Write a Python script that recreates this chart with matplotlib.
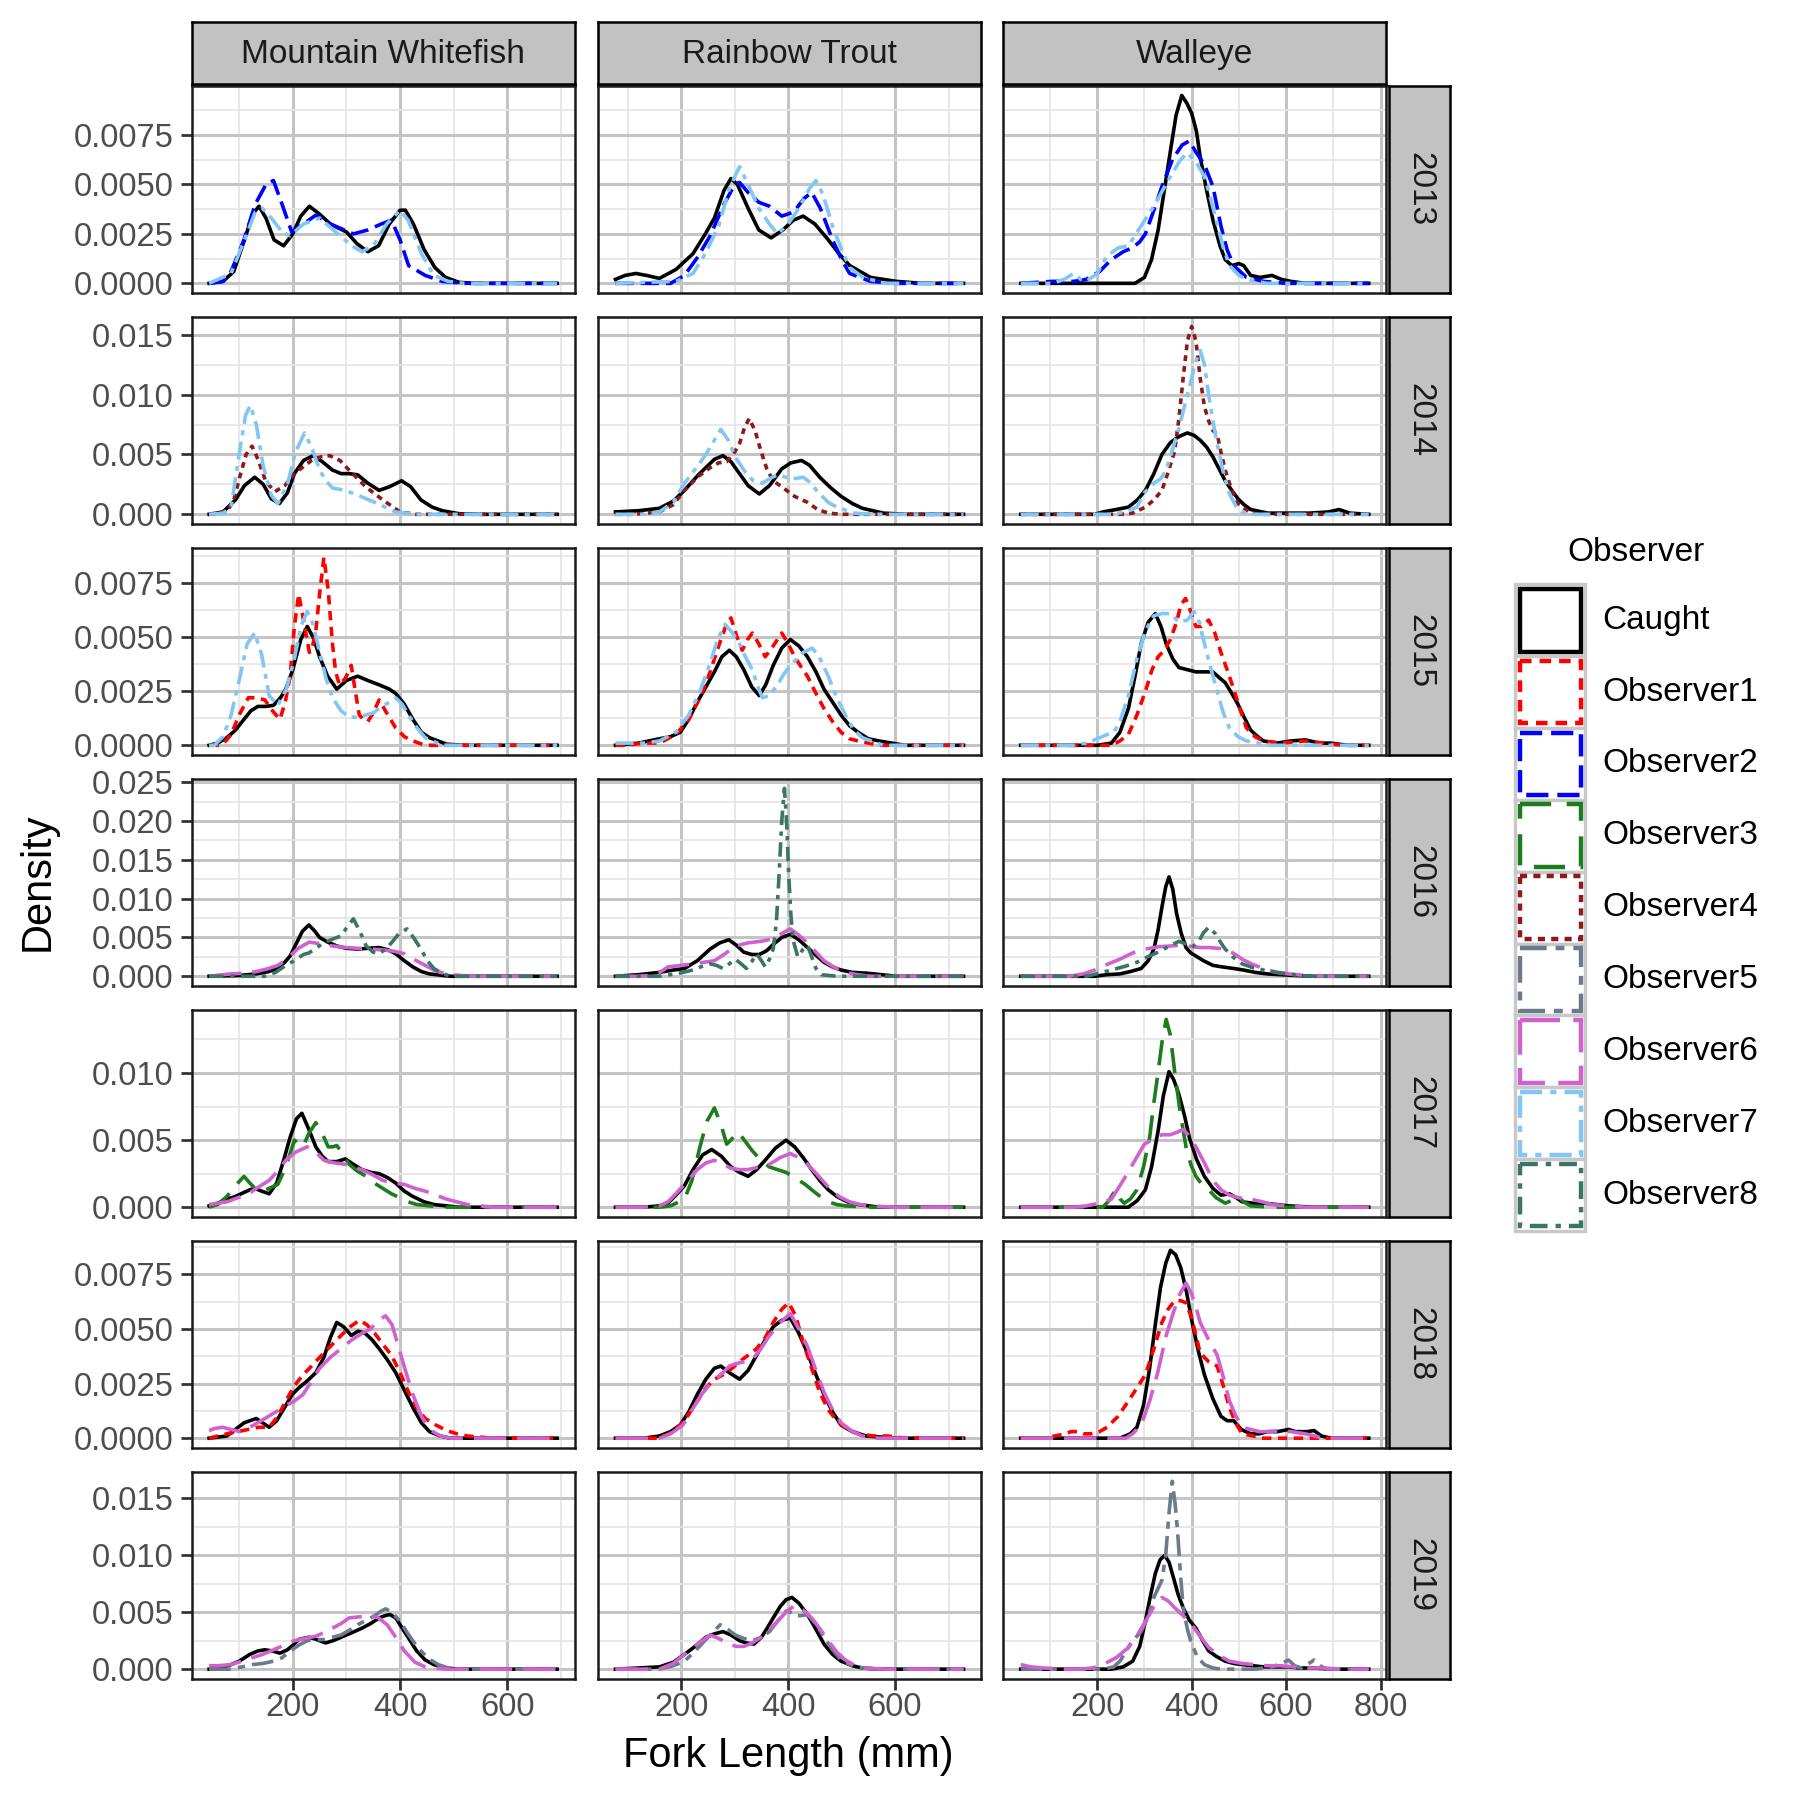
import matplotlib
matplotlib.use("Agg")
import matplotlib.pyplot as plt
from matplotlib.patches import Rectangle
from matplotlib.ticker import MultipleLocator, FuncFormatter

plt.rcParams['font.family'] = ['Liberation Sans', 'DejaVu Sans']

# ----------------------------------------------------------------------
# Data: density curves, (fork length mm, density)
# ----------------------------------------------------------------------
species = ['Mountain Whitefish', 'Rainbow Trout', 'Walleye']
years = ['2013', '2014', '2015', '2016', '2017', '2018', '2019']
observers = ['Caught', 'Observer1', 'Observer2', 'Observer3', 'Observer4',
             'Observer5', 'Observer6', 'Observer7', 'Observer8']

mw_2013 = {
    'Caught': [(44, 0), (70, 0.0001), (90, 0.0006), (110, 0.0022), (125, 0.0035), (137, 0.0039), (150, 0.0033),
               (165, 0.0022), (183, 0.0019), (200, 0.0025), (215, 0.0034), (231, 0.0039), (250, 0.0035),
               (270, 0.0030), (300, 0.0026), (320, 0.0020), (340, 0.0016), (360, 0.0019), (380, 0.0030),
               (400, 0.0037), (410, 0.0037), (425, 0.0030), (445, 0.0017), (465, 0.0008), (485, 0.0003),
               (510, 0.00005), (540, 0), (693, 0)],
    'Observer2': [(44, 0), (70, 0.0001), (85, 0.0006), (109, 0.0022), (130, 0.0040), (150, 0.0050), (164, 0.0052),
                  (180, 0.0040), (198, 0.0026), (220, 0.0030), (243, 0.00345), (270, 0.0030), (313, 0.0025),
                  (340, 0.0027), (365, 0.0030), (384, 0.0032), (400, 0.0022), (416, 0.0009), (447, 0.0004),
                  (479, 0.0001), (520, 0), (693, 0)],
    'Observer7': [(44, 0), (85, 0.0005), (110, 0.0022), (130, 0.0036), (143, 0.0038), (160, 0.0033), (180, 0.0026),
                  (195, 0.0024), (220, 0.0030), (250, 0.0033), (280, 0.0026), (310, 0.0019), (329, 0.0016),
                  (350, 0.0019), (375, 0.0030), (400, 0.0037), (415, 0.0032), (440, 0.0015), (463, 0.0004),
                  (490, 0.0001), (520, 0), (693, 0)],
}
rt_2013 = {
    'Caught': [(77, 0.0002), (95, 0.0004), (115, 0.0005), (135, 0.0004), (159, 0.00025), (190, 0.0007),
               (222, 0.0015), (245, 0.0025), (262, 0.0033), (280, 0.0047), (293, 0.0053), (305, 0.0050),
               (325, 0.0038), (345, 0.0027), (368, 0.0023), (390, 0.0027), (410, 0.0032), (428, 0.0034),
               (450, 0.0030), (475, 0.0022), (495, 0.0015), (515, 0.0009), (554, 0.0003), (602, 0.0001),
               (650, 0), (728, 0)],
    'Observer2': [(77, 0), (180, 0), (206, 0.0004), (230, 0.0013), (254, 0.0024), (280, 0.0040), (300, 0.0050),
                  (309, 0.0051), (325, 0.0046), (345, 0.0041), (365, 0.0039), (388, 0.0034), (410, 0.0036),
                  (430, 0.0043), (444, 0.0046), (460, 0.0038), (483, 0.0022), (500, 0.0012), (515, 0.0005),
                  (554, 0.0001), (600, 0), (728, 0)],
    'Observer7': [(77, 0), (190, 0.0001), (222, 0.0005), (245, 0.0015), (270, 0.0029), (290, 0.0048), (309, 0.0059),
                  (325, 0.0050), (345, 0.0038), (365, 0.0030), (380, 0.0025), (400, 0.0030), (420, 0.0038),
                  (440, 0.0048), (452, 0.0052), (465, 0.0045), (483, 0.0029), (500, 0.0017), (515, 0.0008),
                  (540, 0.0003), (580, 0), (728, 0)],
}
wa_2013 = {
    'Caught': [(38, 0), (280, 0), (300, 0.0003), (315, 0.0012), (329, 0.0027), (342, 0.0047), (355, 0.0067),
               (367, 0.0085), (379, 0.0095), (390, 0.0091), (400, 0.0086), (410, 0.0077), (418, 0.0064),
               (430, 0.0049), (445, 0.0032), (460, 0.0019), (471, 0.0012), (485, 0.0009), (500, 0.0010),
               (510, 0.0009), (525, 0.0004), (545, 0.0003), (570, 0.0004), (590, 0.0002), (610, 0.0001),
               (640, 0), (775, 0)],
    'Observer2': [(38, 0), (105, 0.0001), (150, 0.0001), (177, 0.0002), (205, 0.0006), (230, 0.0012), (255, 0.0016),
                  (275, 0.0018), (290, 0.0021), (302, 0.0025), (320, 0.0037), (337, 0.0049), (360, 0.0063),
                  (380, 0.0070), (395, 0.0072), (410, 0.0066), (427, 0.0060), (445, 0.0049), (462, 0.0029),
                  (475, 0.0017), (489, 0.0009), (516, 0.0003), (552, 0.0001), (600, 0), (775, 0)],
    'Observer7': [(38, 0), (105, 0), (130, 0.0002), (150, 0.0005), (165, 0.0002), (177, 0.0001), (200, 0.0005),
                  (221, 0.0014), (245, 0.0018), (266, 0.0019), (290, 0.0028), (320, 0.0039), (350, 0.0052),
                  (375, 0.0062), (391, 0.0066), (410, 0.0061), (427, 0.0054), (440, 0.0043), (454, 0.0030),
                  (467, 0.0018), (480, 0.0009), (500, 0.0004), (516, 0.0002), (560, 0), (775, 0)],
}

mw_2014 = {
    'Caught': [(44, 0), (70, 0.0002), (93, 0.0012), (110, 0.0024), (129, 0.0031), (145, 0.0025), (160, 0.0013),
               (175, 0.0009), (190, 0.0018), (203, 0.0034), (220, 0.0045), (238, 0.0049), (255, 0.0044),
               (274, 0.0037), (290, 0.0034), (305, 0.0034), (321, 0.0033), (340, 0.0026), (361, 0.0020),
               (380, 0.0023), (403, 0.0028), (420, 0.0023), (439, 0.0012), (460, 0.0006), (479, 0.0003),
               (510, 0.00005), (550, 0), (693, 0)],
    'Observer4': [(44, 0), (65, 0.0001), (77, 0.0002), (90, 0.0012), (101, 0.0031), (113, 0.0050), (124, 0.0057),
                  (135, 0.0046), (150, 0.0027), (167, 0.0019), (185, 0.0024), (203, 0.0034), (235, 0.0045),
                  (252, 0.0048), (269, 0.0049), (288, 0.0045), (305, 0.0037), (336, 0.0023), (368, 0.0012),
                  (400, 0.0002), (430, 0), (693, 0)],
    'Observer7': [(44, 0), (70, 0.0001), (85, 0.0006), (101, 0.0053), (112, 0.0083), (121, 0.0091), (132, 0.0075),
                  (145, 0.0040), (160, 0.0016), (172, 0.0009), (190, 0.0025), (205, 0.0052), (222, 0.0068),
                  (236, 0.0055), (250, 0.0037), (262, 0.0028), (274, 0.0022), (298, 0.0020), (321, 0.0016),
                  (353, 0.0010), (392, 0.0002), (430, 0), (693, 0)],
}
rt_2014 = {
    'Caught': [(77, 0.0002), (120, 0.0003), (159, 0.0005), (185, 0.0011), (206, 0.0020), (230, 0.0032),
               (246, 0.0039), (262, 0.0046), (278, 0.0049), (293, 0.0044), (309, 0.0034), (325, 0.0024),
               (346, 0.0017), (365, 0.0024), (388, 0.0038), (405, 0.0043), (425, 0.0045), (440, 0.0041),
               (459, 0.0031), (480, 0.0022), (499, 0.0015), (520, 0.0009), (539, 0.0005), (578, 0.0001),
               (620, 0), (728, 0)],
    'Observer4': [(77, 0), (111, 0), (135, 0.0001), (159, 0.0002), (185, 0.0008), (206, 0.0020), (230, 0.0031),
                  (254, 0.0039), (270, 0.0043), (285, 0.0044), (300, 0.0052), (309, 0.0059), (318, 0.0072),
                  (327, 0.0080), (338, 0.0070), (349, 0.0053), (360, 0.0038), (372, 0.0028), (388, 0.0023),
                  (412, 0.0015), (436, 0.0010), (455, 0.0004), (475, 0.0001), (500, 0), (728, 0)],
    'Observer7': [(77, 0), (130, 0), (159, 0.0002), (185, 0.0010), (206, 0.0026), (230, 0.0040), (246, 0.0050),
                  (262, 0.0062), (274, 0.0071), (288, 0.0062), (301, 0.0048), (320, 0.0035), (335, 0.0028),
                  (352, 0.0026), (366, 0.0030), (380, 0.0033), (395, 0.0031), (404, 0.0030), (415, 0.0030),
                  (428, 0.0031), (440, 0.0027), (459, 0.0017), (475, 0.0010), (491, 0.0006), (523, 0.0001),
                  (560, 0), (728, 0)],
}
wa_2014 = {
    'Caught': [(38, 0), (195, 0), (212, 0.0002), (240, 0.0004), (266, 0.0006), (285, 0.0012), (302, 0.0020),
               (320, 0.0034), (337, 0.0050), (355, 0.0060), (373, 0.0065), (391, 0.0068), (405, 0.0066),
               (418, 0.0062), (432, 0.0056), (445, 0.0048), (458, 0.0038), (471, 0.0028), (485, 0.0020),
               (498, 0.0013), (511, 0.0008), (525, 0.0004), (561, 0.0001), (650, 0.0001), (690, 0.0002),
               (712, 0.0004), (735, 0.0001), (775, 0)],
    'Observer4': [(38, 0), (248, 0), (275, 0.0001), (302, 0.0006), (320, 0.0012), (337, 0.0020), (350, 0.0035),
                  (364, 0.0053), (373, 0.0080), (382, 0.0114), (391, 0.0145), (400, 0.0157), (409, 0.0145),
                  (418, 0.0114), (427, 0.0090), (436, 0.0078), (445, 0.0070), (454, 0.0067), (462, 0.0052),
                  (471, 0.0037), (485, 0.0020), (498, 0.0009), (525, 0.0001), (550, 0), (775, 0)],
    'Observer7': [(38, 0), (230, 0), (260, 0.0002), (284, 0.0006), (300, 0.0018), (320, 0.0026), (335, 0.0030),
                  (346, 0.0037), (360, 0.0055), (373, 0.0072), (382, 0.0086), (391, 0.0100), (400, 0.0114),
                  (409, 0.0128), (418, 0.0137), (427, 0.0125), (436, 0.0100), (445, 0.0078), (454, 0.0059),
                  (467, 0.0035), (480, 0.0017), (495, 0.0006), (507, 0.0002), (530, 0), (775, 0)],
}

mw_2015 = {
    'Caught': [(44, 0), (60, 0.0001), (77, 0.00035), (93, 0.0007), (109, 0.0012), (122, 0.0016), (135, 0.0018),
               (150, 0.0018), (164, 0.00185), (177, 0.0022), (187, 0.0026), (200, 0.0035), (215, 0.0049),
               (227, 0.0055), (238, 0.0050), (250, 0.0041), (265, 0.0032), (282, 0.0026), (300, 0.0030),
               (321, 0.0032), (340, 0.0030), (361, 0.0028), (380, 0.0026), (392, 0.0024), (408, 0.0019),
               (424, 0.0012), (440, 0.0006), (455, 0.00035), (487, 0.00005), (520, 0), (693, 0)],
    'Observer1': [(44, 0), (61, 0), (75, 0.0002), (85, 0.0005), (100, 0.0014), (117, 0.0022), (132, 0.0022),
                  (148, 0.0021), (162, 0.0016), (176, 0.0012), (186, 0.0020), (195, 0.0032), (203, 0.0055),
                  (211, 0.0070), (220, 0.0058), (231, 0.0043), (237, 0.0046), (243, 0.0053), (250, 0.0070),
                  (258, 0.0087), (266, 0.0072), (274, 0.0047), (280, 0.0034), (287, 0.0028), (298, 0.0031),
                  (309, 0.0037), (316, 0.0026), (324, 0.0014), (332, 0.0012), (340, 0.0011), (350, 0.0015),
                  (361, 0.0021), (375, 0.0015), (392, 0.0008), (408, 0.0004), (424, 0.0002), (447, 0), (693, 0)],
    'Observer7': [(44, 0), (54, 0), (70, 0.0004), (85, 0.0014), (100, 0.0030), (115, 0.0047), (129, 0.0052),
                  (142, 0.0042), (156, 0.0023), (172, 0.00185), (188, 0.0026), (203, 0.0040), (215, 0.0055),
                  (227, 0.0062), (238, 0.0056), (250, 0.0043), (262, 0.0031), (274, 0.0022), (290, 0.0016),
                  (305, 0.0013), (320, 0.0013), (336, 0.0014), (350, 0.0015), (361, 0.0017), (380, 0.0020),
                  (392, 0.0022), (404, 0.0019), (416, 0.0014), (432, 0.0008), (447, 0.00035), (479, 0), (693, 0)],
}
rt_2015 = {
    'Caught': [(77, 0), (120, 0.0001), (159, 0.0003), (180, 0.0004), (198, 0.0006), (214, 0.0012), (230, 0.0020),
               (246, 0.0027), (262, 0.0034), (276, 0.0041), (290, 0.0044), (303, 0.0041), (317, 0.0035),
               (332, 0.0027), (346, 0.0023), (358, 0.0028), (372, 0.0037), (388, 0.0045), (404, 0.0049),
               (420, 0.0046), (436, 0.0041), (452, 0.0034), (467, 0.0026), (483, 0.0020), (499, 0.0014),
               (515, 0.0009), (531, 0.0006), (550, 0.0003), (570, 0.0002), (618, 0), (728, 0)],
    'Observer1': [(77, 0), (96, 0), (130, 0.0001), (159, 0.0001), (190, 0.0005), (214, 0.0012), (235, 0.0022),
                  (254, 0.0034), (270, 0.0046), (283, 0.0055), (293, 0.0059), (303, 0.0051), (314, 0.0044),
                  (324, 0.0049), (333, 0.0052), (345, 0.0047), (357, 0.0041), (372, 0.0046), (388, 0.0052),
                  (400, 0.0047), (412, 0.0041), (425, 0.0036), (436, 0.0032), (450, 0.0025), (467, 0.0017),
                  (483, 0.0011), (499, 0.0006), (515, 0.0003), (531, 0.0002), (570, 0), (728, 0)],
    'Observer7': [(77, 0.0001), (130, 0.0001), (159, 0.0002), (190, 0.0006), (214, 0.0014), (235, 0.0025),
                  (254, 0.0038), (268, 0.0049), (282, 0.0056), (296, 0.0052), (309, 0.0047), (322, 0.0040),
                  (333, 0.0035), (345, 0.0026), (352, 0.0022), (365, 0.0023), (380, 0.0028), (392, 0.0033),
                  (404, 0.0037), (416, 0.0040), (428, 0.0043), (445, 0.0045), (458, 0.0041), (475, 0.0032),
                  (491, 0.0022), (507, 0.0014), (523, 0.0007), (539, 0.00035), (578, 0), (728, 0)],
}
wa_2015 = {
    'Caught': [(38, 0), (200, 0), (230, 0.0001), (248, 0.0006), (266, 0.0017), (280, 0.0032), (293, 0.0047),
               (308, 0.0057), (323, 0.0061), (335, 0.0055), (346, 0.0047), (360, 0.0040), (373, 0.0036),
               (391, 0.0035), (409, 0.0034), (427, 0.0034), (445, 0.0034), (460, 0.0031), (471, 0.0029),
               (485, 0.0024), (498, 0.0019), (511, 0.0013), (525, 0.0007), (540, 0.0004), (552, 0.0002),
               (580, 0.0001), (610, 0.0002), (641, 0.00025), (670, 0.0001), (695, 0.0001), (730, 0), (775, 0)],
    'Observer1': [(38, 0), (230, 0), (248, 0.0002), (266, 0.0005), (284, 0.0014), (302, 0.0025), (316, 0.0035),
                  (329, 0.0041), (342, 0.0044), (355, 0.0049), (368, 0.0057), (377, 0.0065), (387, 0.0068),
                  (398, 0.0062), (409, 0.0055), (420, 0.0055), (436, 0.0058), (449, 0.0052), (462, 0.0043),
                  (475, 0.0035), (489, 0.0026), (502, 0.0017), (516, 0.0008), (534, 0.0004), (552, 0.0002),
                  (590, 0.0001), (641, 0.0002), (680, 0.0001), (720, 0), (775, 0)],
    'Observer7': [(38, 0), (150, 0), (177, 0.0001), (200, 0.0003), (221, 0.0005), (235, 0.0006), (248, 0.0011),
                  (266, 0.0023), (284, 0.0040), (302, 0.0053), (320, 0.0060), (337, 0.0061), (355, 0.0061),
                  (373, 0.0057), (391, 0.0058), (405, 0.0062), (416, 0.0057), (427, 0.0047), (440, 0.0036),
                  (454, 0.0025), (467, 0.0015), (480, 0.0008), (498, 0.0004), (516, 0.0002), (570, 0), (775, 0)],
}

mw_2016 = {
    'Caught': [(44, 0), (100, 0.0001), (132, 0.0003), (155, 0.0006), (172, 0.0010), (185, 0.0018), (195, 0.0026),
               (205, 0.0040), (218, 0.0058), (230, 0.0066), (240, 0.0059), (250, 0.0050), (265, 0.0044),
               (282, 0.0039), (300, 0.0036), (321, 0.0035), (340, 0.0036), (361, 0.0037), (378, 0.0034),
               (392, 0.0029), (408, 0.0020), (424, 0.0012), (440, 0.0006), (455, 0.0003), (494, 0), (693, 0)],
    'Observer6': [(44, 0), (70, 0.0002), (85, 0.0003), (110, 0.0004), (132, 0.0006), (155, 0.0010), (172, 0.0014),
                  (185, 0.0020), (195, 0.0026), (210, 0.0036), (231, 0.0044), (250, 0.0042), (274, 0.0039),
                  (300, 0.0037), (321, 0.0036), (345, 0.0035), (368, 0.0034), (390, 0.0032), (408, 0.0029),
                  (425, 0.0022), (447, 0.0014), (465, 0.0007), (487, 0.0003), (526, 0), (693, 0)],
    'Observer8': [(44, 0), (148, 0), (168, 0.0005), (187, 0.0014), (200, 0.0019), (211, 0.0024), (220, 0.0028),
                  (230, 0.0030), (245, 0.0037), (258, 0.0043), (275, 0.0048), (290, 0.0052), (302, 0.0064),
                  (313, 0.0074), (325, 0.0058), (337, 0.0039), (350, 0.0031), (361, 0.0029), (373, 0.0035),
                  (384, 0.0043), (398, 0.0055), (413, 0.0061), (426, 0.0049), (439, 0.0035), (451, 0.0020),
                  (463, 0.0010), (478, 0.0004), (494, 0), (693, 0)],
}
rt_2016 = {
    'Caught': [(77, 0), (120, 0.0002), (159, 0.0005), (185, 0.0008), (206, 0.0010), (230, 0.0020), (254, 0.0035),
               (272, 0.0043), (289, 0.0047), (303, 0.0040), (317, 0.0031), (332, 0.0028), (346, 0.0028),
               (360, 0.0033), (372, 0.0041), (388, 0.0050), (404, 0.0054), (420, 0.0047), (436, 0.0037),
               (452, 0.0027), (467, 0.0018), (483, 0.0012), (499, 0.0008), (520, 0.0005), (546, 0.0004),
               (575, 0.0002), (602, 0), (728, 0)],
    'Observer6': [(77, 0), (120, 0), (143, 0.0001), (160, 0.0005), (175, 0.0012), (200, 0.0014), (222, 0.0016),
                  (242, 0.0018), (262, 0.0020), (282, 0.0029), (301, 0.0039), (325, 0.0043), (349, 0.0045),
                  (370, 0.0048), (388, 0.0055), (404, 0.0061), (420, 0.0053), (436, 0.0043), (452, 0.0031),
                  (467, 0.0020), (487, 0.0011), (507, 0.0005), (530, 0.0002), (554, 0), (728, 0)],
    'Observer8': [(77, 0), (159, 0), (190, 0.0003), (222, 0.0008), (240, 0.0013), (254, 0.0016), (266, 0.0014),
                  (278, 0.0010), (290, 0.0016), (301, 0.0022), (312, 0.0016), (322, 0.0010), (332, 0.0019),
                  (341, 0.0029), (350, 0.0020), (357, 0.0012), (365, 0.0022), (372, 0.0035), (378, 0.0070),
                  (383, 0.0131), (388, 0.0200), (393, 0.0242), (397, 0.0200), (401, 0.0131), (405, 0.0080),
                  (409, 0.0047), (418, 0.0025), (428, 0.0035), (436, 0.0040), (444, 0.0025), (452, 0.0010),
                  (462, 0.0002), (491, 0), (728, 0)],
}
wa_2016 = {
    'Caught': [(38, 0), (195, 0), (220, 0.0002), (248, 0.0003), (270, 0.0006), (293, 0.0010), (308, 0.0020),
               (320, 0.0035), (329, 0.0060), (337, 0.0089), (345, 0.0115), (352, 0.0128), (360, 0.0112),
               (368, 0.0081), (378, 0.0055), (388, 0.0037), (398, 0.0030), (409, 0.0026), (425, 0.0020),
               (445, 0.0014), (465, 0.0012), (489, 0.0010), (510, 0.0008), (534, 0.0005), (560, 0.0003),
               (588, 0.0002), (620, 0.0001), (659, 0), (775, 0)],
    'Observer6': [(38, 0), (141, 0), (170, 0.0003), (195, 0.0008), (220, 0.0015), (248, 0.0022), (275, 0.0030),
                  (302, 0.0035), (330, 0.0038), (355, 0.0039), (375, 0.0040), (391, 0.0039), (415, 0.0037),
                  (436, 0.0037), (455, 0.0036), (471, 0.0035), (490, 0.0029), (507, 0.0022), (530, 0.0015),
                  (552, 0.0010), (580, 0.0005), (605, 0.0003), (640, 0.0001), (677, 0), (775, 0)],
    'Observer8': [(38, 0), (177, 0), (205, 0.0004), (230, 0.0008), (260, 0.0013), (284, 0.0018), (310, 0.0026),
                  (329, 0.0031), (350, 0.0038), (373, 0.0045), (390, 0.0041), (400, 0.0037), (415, 0.0045),
                  (425, 0.0056), (436, 0.0063), (450, 0.0055), (462, 0.0043), (471, 0.0035), (489, 0.0024),
                  (507, 0.0016), (530, 0.0011), (552, 0.0008), (580, 0.0005), (605, 0.0003), (630, 0.0001),
                  (659, 0), (775, 0)],
}

mw_2017 = {
    'Caught': [(44, 0.0001), (60, 0.0003), (77, 0.0006), (93, 0.0008), (109, 0.0011), (120, 0.0013), (129, 0.0014),
               (142, 0.0012), (156, 0.0010), (170, 0.0018), (183, 0.0035), (195, 0.0052), (207, 0.0066),
               (217, 0.0070), (230, 0.0058), (243, 0.0045), (255, 0.0038), (266, 0.0034), (282, 0.0034),
               (298, 0.0036), (313, 0.0032), (329, 0.0028), (345, 0.0026), (361, 0.0025), (377, 0.0022),
               (392, 0.0018), (408, 0.0012), (424, 0.0008), (445, 0.0004), (463, 0.0002), (510, 0), (693, 0)],
    'Observer3': [(44, 0), (60, 0.0002), (77, 0.0008), (93, 0.0016), (109, 0.0023), (120, 0.0018), (132, 0.0013),
                  (150, 0.0013), (172, 0.0017), (187, 0.0030), (203, 0.0050), (212, 0.0047), (219, 0.0045),
                  (230, 0.0055), (243, 0.0063), (255, 0.0055), (266, 0.0045), (275, 0.0045), (282, 0.0046),
                  (293, 0.0040), (305, 0.0032), (320, 0.0027), (337, 0.0023), (352, 0.0018), (368, 0.0014),
                  (384, 0.0010), (400, 0.0007), (415, 0.0004), (431, 0.0002), (479, 0), (693, 0)],
    'Observer6': [(44, 0.0002), (60, 0.0003), (77, 0.0004), (97, 0.0007), (117, 0.0010), (136, 0.0015),
                  (156, 0.0020), (172, 0.0027), (187, 0.0035), (205, 0.0041), (227, 0.0045), (243, 0.0041),
                  (258, 0.0035), (278, 0.0033), (298, 0.0032), (313, 0.0030), (329, 0.0028), (350, 0.0024),
                  (368, 0.0020), (388, 0.0018), (408, 0.0017), (428, 0.0014), (447, 0.0012), (467, 0.0009),
                  (487, 0.0006), (506, 0.0004), (526, 0.0002), (550, 0.0001), (573, 0), (693, 0)],
}
rt_2017 = {
    'Caught': [(77, 0), (130, 0), (159, 0.0001), (175, 0.0003), (190, 0.0009), (206, 0.0016), (222, 0.0028),
               (240, 0.0039), (257, 0.0043), (275, 0.0038), (293, 0.0030), (309, 0.0026), (325, 0.0023),
               (341, 0.0028), (357, 0.0035), (376, 0.0044), (396, 0.0050), (412, 0.0045), (428, 0.0037),
               (444, 0.0028), (459, 0.0020), (475, 0.0013), (491, 0.0008), (511, 0.0004), (531, 0.0002),
               (570, 0), (728, 0)],
    'Observer3': [(77, 0), (159, 0), (180, 0.0001), (206, 0.0006), (220, 0.0020), (235, 0.0045), (248, 0.0064),
                  (262, 0.0074), (274, 0.0062), (285, 0.0047), (295, 0.0051), (306, 0.0056), (318, 0.0050),
                  (333, 0.0042), (349, 0.0035), (365, 0.0030), (380, 0.0028), (396, 0.0026), (408, 0.0023),
                  (420, 0.0020), (432, 0.0017), (444, 0.0013), (460, 0.0008), (475, 0.0004), (491, 0.0002),
                  (507, 0.0001), (554, 0), (728, 0)],
    'Observer6': [(77, 0), (130, 0), (159, 0.0001), (175, 0.0004), (190, 0.0010), (210, 0.0019), (230, 0.0028),
                  (246, 0.0033), (262, 0.0035), (278, 0.0032), (293, 0.0029), (309, 0.0028), (325, 0.0028),
                  (345, 0.0030), (365, 0.0032), (385, 0.0037), (404, 0.0040), (420, 0.0037), (436, 0.0032),
                  (455, 0.0024), (475, 0.0015), (495, 0.0008), (515, 0.0004), (534, 0.0002), (554, 0.0001),
                  (600, 0), (728, 0)],
}
wa_2017 = {
    'Caught': [(38, 0), (266, 0), (285, 0.0005), (302, 0.0013), (315, 0.0030), (329, 0.0057), (340, 0.0083),
               (352, 0.0101), (362, 0.0095), (373, 0.0084), (385, 0.0068), (395, 0.0052), (410, 0.0036),
               (427, 0.0023), (445, 0.0014), (462, 0.0009), (480, 0.0010), (495, 0.0007), (507, 0.0004),
               (530, 0.0003), (552, 0.0003), (580, 0.0002), (605, 0.0001), (659, 0), (775, 0)],
    'Observer3': [(38, 0), (212, 0), (225, 0.0005), (239, 0.0013), (249, 0.0006), (257, 0.0003), (270, 0.0006),
                  (284, 0.0013), (298, 0.0030), (311, 0.0052), (320, 0.0078), (329, 0.0101), (338, 0.0125),
                  (346, 0.0140), (355, 0.0128), (364, 0.0101), (376, 0.0070), (388, 0.0045), (398, 0.0032),
                  (409, 0.0023), (422, 0.0017), (436, 0.0013), (452, 0.0007), (471, 0.0003), (485, 0.0005),
                  (498, 0.0008), (510, 0.0004), (525, 0.0001), (570, 0), (775, 0)],
    'Observer6': [(38, 0), (150, 0), (177, 0.0001), (205, 0.0003), (230, 0.0006), (255, 0.0020), (280, 0.0035),
                  (300, 0.0047), (320, 0.0051), (337, 0.0054), (355, 0.0054), (370, 0.0056), (382, 0.0058),
                  (395, 0.0053), (409, 0.0045), (427, 0.0033), (445, 0.0020), (462, 0.0013), (480, 0.0009),
                  (500, 0.0007), (525, 0.0006), (550, 0.0004), (570, 0.0002), (600, 0.0001), (641, 0), (775, 0)],
}

mw_2018 = {
    'Caught': [(44, 0), (77, 0.0001), (93, 0.0004), (109, 0.0007), (120, 0.0008), (132, 0.0009), (144, 0.0007),
               (156, 0.0005), (170, 0.0008), (187, 0.0015), (199, 0.0020), (211, 0.0023), (226, 0.0026),
               (243, 0.0030), (258, 0.0037), (270, 0.0046), (282, 0.0053), (295, 0.0051), (309, 0.0047),
               (322, 0.0049), (335, 0.0048), (348, 0.0045), (361, 0.0041), (376, 0.0036), (392, 0.0030),
               (408, 0.0022), (424, 0.0014), (440, 0.0007), (455, 0.0003), (475, 0.0001), (494, 0), (693, 0)],
    'Observer1': [(44, 0), (77, 0.0002), (97, 0.0003), (117, 0.0004), (136, 0.0005), (156, 0.0005), (172, 0.0010),
                  (187, 0.0017), (203, 0.0024), (219, 0.0029), (235, 0.0033), (250, 0.0037), (270, 0.0042),
                  (290, 0.0047), (307, 0.0051), (324, 0.0054), (338, 0.0052), (353, 0.0048), (368, 0.0043),
                  (384, 0.0038), (400, 0.0030), (416, 0.0021), (431, 0.0014), (447, 0.0009), (467, 0.0006),
                  (487, 0.00035), (506, 0.0002), (526, 0.0001), (573, 0), (693, 0)],
    'Observer6': [(44, 0.00035), (55, 0.00045), (69, 0.0005), (85, 0.0004), (101, 0.0003), (120, 0.0005),
                  (148, 0.0009), (168, 0.0012), (187, 0.0015), (203, 0.0017), (219, 0.0020), (235, 0.0026),
                  (250, 0.0032), (270, 0.0037), (290, 0.0041), (310, 0.0045), (329, 0.0048), (345, 0.0050),
                  (360, 0.0054), (373, 0.0056), (385, 0.0052), (397, 0.0042), (410, 0.0031), (424, 0.0020),
                  (440, 0.0010), (455, 0.0004), (475, 0.0001), (494, 0), (693, 0)],
}
rt_2018 = {
    'Caught': [(77, 0), (130, 0), (159, 0.0001), (180, 0.0003), (198, 0.0006), (214, 0.0012), (230, 0.0020),
               (246, 0.0027), (262, 0.0032), (274, 0.0033), (290, 0.0030), (309, 0.0027), (325, 0.0031),
               (341, 0.0038), (357, 0.0045), (372, 0.0051), (388, 0.0054), (404, 0.0055), (420, 0.0048),
               (436, 0.0039), (452, 0.0029), (467, 0.0020), (483, 0.0012), (499, 0.0006), (520, 0.0003),
               (546, 0.0001), (602, 0), (728, 0)],
    'Observer1': [(77, 0), (159, 0), (185, 0.0003), (206, 0.0008), (225, 0.0015), (246, 0.0023), (262, 0.0027),
                  (278, 0.0029), (295, 0.0032), (309, 0.0035), (325, 0.0038), (341, 0.0041), (357, 0.0046),
                  (372, 0.0053), (388, 0.0059), (401, 0.0062), (414, 0.0056), (428, 0.0044), (444, 0.0032),
                  (459, 0.0021), (475, 0.0013), (491, 0.0008), (511, 0.0004), (531, 0.0002), (560, 0.0001),
                  (586, 0.0001), (620, 0), (728, 0)],
    'Observer6': [(77, 0), (159, 0), (180, 0.0002), (203, 0.0006), (220, 0.0013), (238, 0.0020), (258, 0.0026),
                  (278, 0.0030), (290, 0.0033), (301, 0.0034), (317, 0.0035), (333, 0.0036), (349, 0.0041),
                  (365, 0.0047), (385, 0.0053), (404, 0.0057), (420, 0.0050), (436, 0.0042), (452, 0.0031),
                  (467, 0.0021), (483, 0.0013), (499, 0.0007), (520, 0.0003), (539, 0.0001), (570, 0), (728, 0)],
}
wa_2018 = {
    'Caught': [(38, 0), (248, 0), (270, 0.0002), (284, 0.0005), (298, 0.0015), (311, 0.0032), (323, 0.0052),
               (334, 0.0069), (345, 0.0080), (355, 0.0086), (366, 0.0084), (377, 0.0078), (389, 0.0067),
               (400, 0.0054), (414, 0.0040), (427, 0.0029), (445, 0.0018), (462, 0.0010), (475, 0.0008),
               (489, 0.0008), (505, 0.0004), (525, 0.0002), (543, 0.0002), (561, 0.0003), (582, 0.0003),
               (605, 0.0004), (620, 0.0003), (632, 0.0003), (645, 0.0003), (659, 0.00035), (675, 0.0001),
               (695, 0), (775, 0)],
    'Observer1': [(38, 0), (87, 0), (110, 0.0001), (132, 0.0002), (145, 0.0003), (159, 0.0003), (172, 0.0002),
                  (186, 0.0002), (205, 0.0003), (221, 0.0005), (244, 0.0010), (266, 0.0017), (284, 0.0023),
                  (302, 0.0029), (320, 0.0041), (337, 0.0053), (350, 0.0059), (364, 0.0063), (376, 0.0063),
                  (388, 0.0062), (400, 0.0055), (418, 0.0039), (436, 0.0035), (454, 0.0033), (467, 0.0024),
                  (480, 0.0014), (493, 0.0007), (507, 0.0002), (530, 0.0001), (552, 0), (775, 0)],
    'Observer6': [(38, 0), (260, 0), (275, 0.0002), (293, 0.0006), (311, 0.0017), (328, 0.0030), (346, 0.0047),
                  (362, 0.0058), (375, 0.0066), (388, 0.0071), (400, 0.0066), (409, 0.0060), (418, 0.0053),
                  (436, 0.0045), (454, 0.0038), (467, 0.0028), (480, 0.0017), (494, 0.0010), (507, 0.0005),
                  (525, 0.0004), (543, 0.0003), (565, 0.0003), (588, 0.00035), (610, 0.0003), (641, 0.0002),
                  (660, 0.0001), (677, 0), (775, 0)],
}

mw_2019 = {
    'Caught': [(44, 0), (65, 0.0001), (85, 0.0004), (100, 0.0007), (120, 0.0013), (135, 0.0016), (148, 0.0017),
               (162, 0.0016), (176, 0.0014), (190, 0.0017), (200, 0.0021), (211, 0.0026), (220, 0.0027),
               (230, 0.0028), (245, 0.0026), (261, 0.0023), (275, 0.0025), (290, 0.0028), (310, 0.0032),
               (329, 0.0036), (345, 0.0040), (361, 0.0045), (372, 0.0047), (381, 0.0048), (392, 0.0045),
               (400, 0.0039), (415, 0.0028), (431, 0.0016), (447, 0.0008), (463, 0.0004), (485, 0.0001),
               (510, 0), (693, 0)],
    'Observer5': [(44, 0), (85, 0), (105, 0.0002), (124, 0.0004), (144, 0.0005), (164, 0.0007), (180, 0.0010),
                  (195, 0.0016), (211, 0.0021), (227, 0.0025), (243, 0.0026), (258, 0.0026), (274, 0.0028),
                  (290, 0.0030), (305, 0.0034), (321, 0.0039), (337, 0.0043), (353, 0.0047), (365, 0.0051),
                  (373, 0.0053), (385, 0.0050), (400, 0.0042), (415, 0.0031), (431, 0.0020), (451, 0.0010),
                  (471, 0.0004), (490, 0.0001), (510, 0), (693, 0)],
    'Observer6': [(44, 0.0003), (60, 0.0003), (85, 0.0004), (105, 0.0007), (124, 0.0010), (144, 0.0013),
                  (164, 0.0017), (184, 0.0021), (203, 0.0025), (223, 0.0027), (243, 0.0029), (258, 0.0032),
                  (274, 0.0036), (290, 0.0040), (305, 0.0045), (325, 0.0046), (345, 0.0047), (360, 0.0045),
                  (376, 0.0039), (392, 0.0028), (408, 0.0016), (428, 0.0006), (447, 0.0002), (487, 0), (693, 0)],
}
rt_2019 = {
    'Caught': [(77, 0), (120, 0.0001), (159, 0.0002), (185, 0.0006), (206, 0.0013), (226, 0.0020), (246, 0.0028),
               (262, 0.0031), (278, 0.0033), (293, 0.0030), (309, 0.0025), (322, 0.0023), (336, 0.0022),
               (350, 0.0028), (362, 0.0037), (372, 0.0045), (385, 0.0055), (396, 0.0061), (407, 0.0063),
               (420, 0.0058), (436, 0.0048), (452, 0.0035), (467, 0.0022), (483, 0.0013), (499, 0.0007),
               (520, 0.0003), (539, 0.0001), (570, 0), (728, 0)],
    'Observer5': [(77, 0), (159, 0), (185, 0.0003), (206, 0.0007), (222, 0.0014), (238, 0.0022), (256, 0.0031),
                  (273, 0.0039), (287, 0.0035), (301, 0.0030), (317, 0.0027), (333, 0.0025), (349, 0.0028),
                  (365, 0.0033), (380, 0.0042), (396, 0.0051), (404, 0.0050), (412, 0.0047), (424, 0.0047),
                  (436, 0.0048), (452, 0.0040), (467, 0.0028), (483, 0.0017), (499, 0.0008), (520, 0.0003),
                  (539, 0.0001), (570, 0), (728, 0)],
    'Observer6': [(77, 0), (159, 0), (185, 0.0005), (206, 0.0013), (230, 0.0022), (254, 0.0030), (270, 0.0027),
                  (289, 0.0022), (303, 0.0020), (317, 0.0020), (333, 0.0023), (349, 0.0028), (365, 0.0035),
                  (380, 0.0042), (396, 0.0050), (412, 0.0056), (428, 0.0052), (444, 0.0045), (460, 0.0035),
                  (475, 0.0025), (491, 0.0015), (507, 0.0008), (526, 0.0003), (546, 0.0001), (580, 0), (728, 0)],
}
wa_2019 = {
    'Caught': [(38, 0), (230, 0), (255, 0.0002), (275, 0.0007), (290, 0.0020), (302, 0.0042), (313, 0.0065),
               (323, 0.0084), (333, 0.0096), (343, 0.0100), (352, 0.0094), (361, 0.0081), (371, 0.0066),
               (382, 0.0054), (395, 0.0043), (409, 0.0036), (422, 0.0026), (436, 0.0016), (453, 0.0011),
               (471, 0.0007), (489, 0.0005), (507, 0.0004), (530, 0.0003), (552, 0.0002), (580, 0.0002),
               (605, 0.0002), (630, 0.0001), (659, 0.0001), (700, 0), (775, 0)],
    'Observer5': [(38, 0), (212, 0), (235, 0.0002), (248, 0.0007), (260, 0.0015), (270, 0.0022), (282, 0.0028),
                  (293, 0.0033), (307, 0.0045), (320, 0.0063), (330, 0.0072), (337, 0.0078), (345, 0.0100),
                  (352, 0.0137), (359, 0.0165), (365, 0.0145), (370, 0.0122), (376, 0.0085), (382, 0.0054),
                  (391, 0.0035), (400, 0.0022), (413, 0.0010), (427, 0.0004), (445, 0.0001), (462, 0), (534, 0),
                  (570, 0.0002), (590, 0.0005), (605, 0.0008), (618, 0.0003), (632, 0.0001), (645, 0.0004),
                  (659, 0.0008), (672, 0.0003), (686, 0), (775, 0)],
    'Observer6': [(38, 0.0004), (60, 0.0002), (87, 0.0001), (130, 0), (159, 0), (190, 0.0001), (212, 0.0004),
                  (240, 0.0010), (266, 0.0019), (285, 0.0030), (302, 0.0042), (320, 0.0055), (337, 0.0063),
                  (350, 0.0060), (364, 0.0054), (382, 0.0047), (400, 0.0039), (418, 0.0029), (436, 0.0019),
                  (458, 0.0012), (480, 0.0007), (507, 0.0005), (534, 0.0004), (560, 0.0003), (588, 0.0003),
                  (615, 0.0002), (641, 0.0001), (680, 0.0001), (720, 0), (775, 0)],
}

panels = [
    [mw_2013, rt_2013, wa_2013],
    [mw_2014, rt_2014, wa_2014],
    [mw_2015, rt_2015, wa_2015],
    [mw_2016, rt_2016, wa_2016],
    [mw_2017, rt_2017, wa_2017],
    [mw_2018, rt_2018, wa_2018],
    [mw_2019, rt_2019, wa_2019],
]

# y tick step and number of decimals for each row (free y scales)
y_steps = [0.0025, 0.005, 0.0025, 0.005, 0.005, 0.0025, 0.005]
y_decimals = [4, 3, 4, 3, 3, 4, 3]

# ----------------------------------------------------------------------
# Styles
# ----------------------------------------------------------------------
obs_colors = {
    'Caught': '#000000', 'Observer1': '#FF0000', 'Observer2': '#0000FF',
    'Observer3': '#1E7B1E', 'Observer4': '#8B1A1A', 'Observer5': '#6C7B8B',
    'Observer6': '#CF62CF', 'Observer7': '#82C6F6', 'Observer8': '#3B7565',
}
obs_dashes = {
    'Caught': '-', 'Observer1': (0, (2.6, 1.8)), 'Observer2': (0, (5, 2)),
    'Observer3': (0, (7, 3.5)), 'Observer4': (0, (1.6, 1.4)), 'Observer5': (0, (6, 2, 2, 2)),
    'Observer6': (0, (9, 3)), 'Observer7': (0, (5, 1.8, 1.4, 1.8)), 'Observer8': (0, (4, 1.8, 1.2, 1.8)),
}

S = 1568.0  # layout is measured in the 1568 px preview
def rect(l, t, w, h):
    return [l / S, 1 - (t + h) / S, w / S, h / S]

col_left = [167, 521, 874]
col_w = 333.5
row_top = [75 + i * 201.2 for i in range(7)]
row_h = 180

major_c, minor_c = '#C4C4C4', '#E4E4E4'
tick_c, label_c = '#333333', '#4D4D4D'
strip_c = '#C2C2C2'

fig = plt.figure(figsize=(9, 9), dpi=200)

# shared limits (free x per column, free y per row, 5% expansion)
xlims = []
for c in range(3):
    xs = [p[0] for r in range(7) for pts in panels[r][c].values() for p in pts]
    lo, hi = min(xs), max(xs)
    pad = 0.05 * (hi - lo)
    xlims.append((lo - pad, hi + pad))
ylims = []
for r in range(7):
    ymax = max(p[1] for c in range(3) for pts in panels[r][c].values() for p in pts)
    ylims.append((-0.05 * ymax, 1.05 * ymax))

for r in range(7):
    for c in range(3):
        ax = fig.add_axes(rect(col_left[c], row_top[r], col_w, row_h))
        ax.set_facecolor('white')
        for obs in observers:
            if obs not in panels[r][c]:
                continue
            xs, ys = zip(*panels[r][c][obs])
            ax.plot(xs, ys, color=obs_colors[obs], linestyle=obs_dashes[obs], lw=1.3,
                    dash_capstyle='butt', solid_joinstyle='round', zorder=3)
        ax.set_xlim(*xlims[c])
        ax.set_ylim(*ylims[r])
        ax.xaxis.set_major_locator(MultipleLocator(200))
        ax.xaxis.set_minor_locator(MultipleLocator(100))
        ax.yaxis.set_major_locator(MultipleLocator(y_steps[r]))
        ax.yaxis.set_minor_locator(MultipleLocator(y_steps[r] / 2))
        ax.grid(True, which='minor', color=minor_c, lw=0.6, zorder=0)
        ax.grid(True, which='major', color=major_c, lw=1.1, zorder=1)
        ax.set_axisbelow(True)
        for sp in ax.spines.values():
            sp.set_color('#1A1A1A')
            sp.set_linewidth(0.9)
        ax.tick_params(which='minor', length=0)
        ax.tick_params(which='major', length=4, width=1.0, color=tick_c,
                       labelsize=11.8, labelcolor=label_c, pad=2.6)
        ax.tick_params(axis='x', pad=0.8)
        d = y_decimals[r]
        ax.yaxis.set_major_formatter(FuncFormatter(lambda v, pos, d=d: f'{v:.{d}f}'))
        if c != 0:
            ax.tick_params(axis='y', left=False, labelleft=False)
        if r != 6:
            ax.tick_params(axis='x', bottom=False, labelbottom=False)

# strips
for c in range(3):
    sa = fig.add_axes(rect(col_left[c], 19, col_w, 54))
    sa.set_facecolor(strip_c)
    sa.set_xticks([])
    sa.set_yticks([])
    for sp in sa.spines.values():
        sp.set_linewidth(0.9)
    sa.text(0.5, 0.48, species[c], ha='center', va='center', fontsize=12,
            color='#1A1A1A', transform=sa.transAxes)
for r in range(7):
    sa = fig.add_axes(rect(1210, row_top[r], 53, row_h))
    sa.set_facecolor(strip_c)
    sa.set_xticks([])
    sa.set_yticks([])
    for sp in sa.spines.values():
        sp.set_linewidth(0.9)
    sa.text(0.5, 0.5, years[r], ha='center', va='center', rotation=-90, fontsize=12,
            color='#1A1A1A', transform=sa.transAxes)

# axis titles
fig.text(687 / S, 1 - 1530 / S, 'Fork Length (mm)', ha='center', va='center', fontsize=15)
fig.text(33 / S, 1 - 768 / S, 'Density', ha='center', va='center', rotation=90, fontsize=15)

# legend drawn by hand so the keys look like ggplot's outlined boxes
leg = fig.add_axes([0, 0, 1, 1], zorder=5)
leg.set_xlim(0, S)
leg.set_ylim(S, 0)
leg.axis('off')
leg.text(1425, 481, 'Observer', ha='center', va='center', fontsize=12)
key_top, key_h, key_w = 509, 62.6, 61
for i, obs in enumerate(observers):
    top = key_top + i * key_h
    leg.add_patch(Rectangle((1320, top), key_w, key_h, facecolor='white',
                            edgecolor='#C8C8C8', lw=1.2))
    leg.add_patch(Rectangle((1324, top + 4), key_w - 8, key_h - 8, facecolor='none',
                            edgecolor=obs_colors[obs], linestyle=obs_dashes[obs], lw=1.6))
    leg.text(1396, top + key_h / 2, obs, ha='left', va='center', fontsize=12)

fig.savefig('out.png', dpi=200, facecolor='white')
